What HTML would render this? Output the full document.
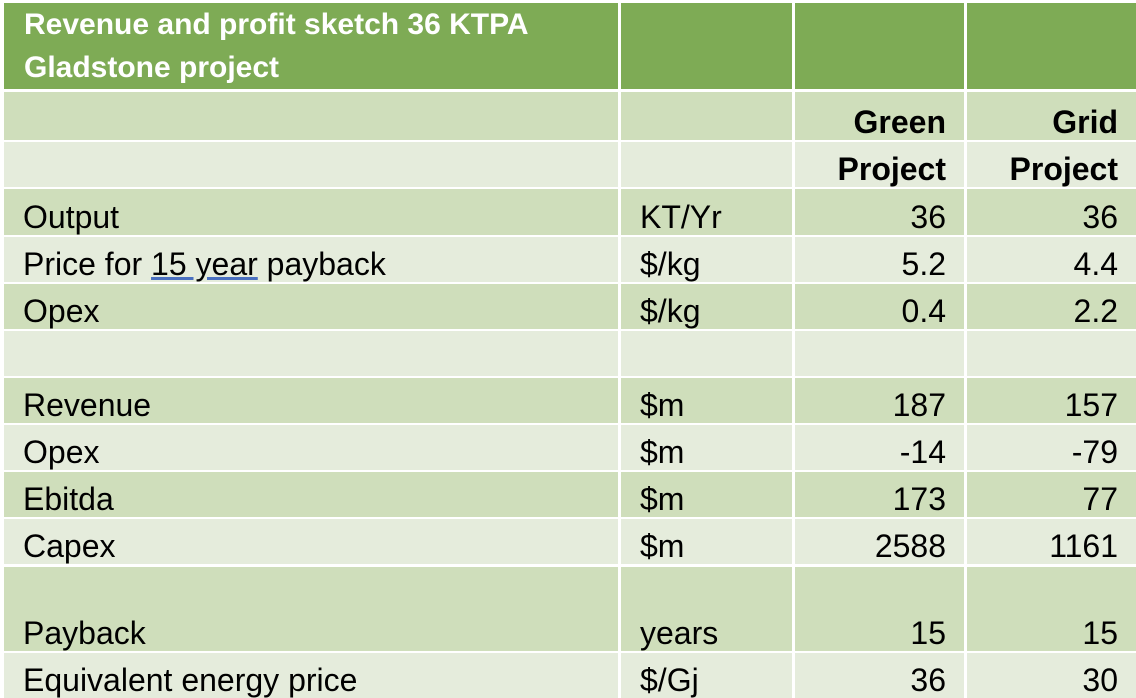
<!DOCTYPE html>
<html><head><meta charset="utf-8"><style>
body{margin:0;width:1136px;height:698px;background:#fff;overflow:hidden;font-family:"Liberation Sans",sans-serif;}
.c{position:absolute;display:flex;align-items:flex-end;box-sizing:border-box;padding:0 18px 2px 19px;font-size:32px;color:#000;line-height:1;white-space:nowrap;}
.r{justify-content:flex-end;}
.d{background:#cfdebb}.l{background:#e5ecdc}.h{background:#7eab55}
.b{font-weight:bold}
</style></head><body>
<div id="t"></div>
<script>
const cols=[[4,614],[621,171],[795,169],[967,169]];
const rows=[
 [3,86,'h',[['Revenue and profit sketch 36 KTPA<br>Gladstone project'],'','','']],
 [92,48,'d',['','','<b>Green</b>','<b>Grid</b>']],
 [142,45,'l',['','','<b>Project</b>','<b>Project</b>']],
 [189,46,'d',['Output','KT/Yr','36','36']],
 [237,45,'l',['Price for <u style="text-decoration-color:#4a70c0">15 year</u> payback','$/kg','5.2','4.4']],
 [284,45,'d',['Opex','$/kg','0.4','2.2']],
 [331,45,'l',['','','','']],
 [378,45,'d',['Revenue','$m','187','157']],
 [425,45,'l',['Opex','$m','-14','-79']],
 [472,45,'d',['Ebitda','$m','173','77']],
 [519,45,'l',['Capex','$m','2588','1161']],
 [567,84,'d',['Payback','years','15','15']],
 [653,45,'l',['Equivalent energy price','$/Gj','36','30']],
];
let h='';
for(const [y,ht,cl,cells] of rows){
 cells.forEach((v,i)=>{
  const [x,w]=cols[i];
  let txt=Array.isArray(v)?v[0]:v, extra='';
  if(Array.isArray(v)){extra='b';}
  const style=`left:${x}px;top:${y}px;width:${w}px;height:${ht}px;`+(Array.isArray(v)?'color:#fff;font-size:30px;line-height:43px;padding:0 0 0 20px;align-items:center;':'');
  h+=`<div class="c ${cl} ${i>=2?'r':''} ${extra}" style="${style}"><span>${txt}</span></div>`;
 });
}
document.getElementById('t').innerHTML=h;
</script>
</body></html>
